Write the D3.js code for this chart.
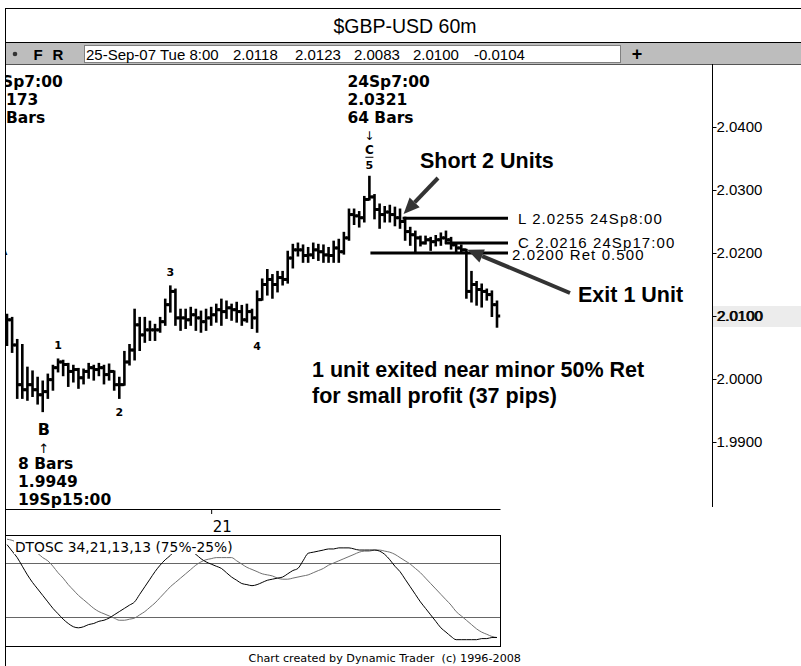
<!DOCTYPE html>
<html>
<head>
<meta charset="utf-8">
<script src="https://cdn.jsdelivr.net/npm/d3@7"></script>
<style>
  body { margin: 0; background: #fff; }
  svg { display: block; }
  text { fill: #000; }
</style>
</head>
<body>
<svg id="chart" width="801" height="666"></svg>
<script>
// ---- GBP/USD hourly bars, 19 Sep 8:00 .. 25 Sep 8:00 (2007) ----
const barOpen = [2.0097,2.0094,2.0054,1.9991,1.9983,1.9991,1.9983,1.9975,1.9980,1.9999,
  2.0018,2.0027,2.0023,2.0012,2.0015,2.0002,2.0012,2.0018,2.0015,2.0018,
  2.0007,2.0012,1.9991,1.9991,2.0027,2.0046,2.0086,2.0070,2.0078,2.0078,
  2.0078,2.0091,2.0118,2.0139,2.0097,2.0097,2.0094,2.0102,2.0097,2.0091,
  2.0097,2.0102,2.0110,2.0107,2.0113,2.0110,2.0107,2.0094,2.0107,2.0097,
  2.0126,2.0150,2.0158,2.0150,2.0161,2.0158,2.0192,2.0205,2.0205,2.0196,
  2.0197,2.0205,2.0202,2.0197,2.0196,2.0208,2.0202,2.0224,2.0261,2.0259,
  2.0256,2.0285,2.0289,2.0269,2.0261,2.0265,2.0261,2.0256,2.0250,2.0234,
  2.0229,2.0224,2.0216,2.0221,2.0218,2.0221,2.0224,2.0221,2.0213,2.0208,
  2.0205,2.0139,2.0150,2.0142,2.0139,2.0134,2.0118];
const barHigh = [2.0102,2.0097,2.0062,2.0054,2.0018,2.0012,2.0002,1.9996,2.0007,2.0021,
  2.0031,2.0029,2.0024,2.0021,2.0016,2.0015,2.0024,2.0021,2.0024,2.0021,
  2.0023,2.0012,2.0002,2.0043,2.0054,2.0110,2.0097,2.0097,2.0091,2.0086,
  2.0097,2.0126,2.0147,2.0142,2.0110,2.0110,2.0113,2.0110,2.0107,2.0110,
  2.0113,2.0118,2.0126,2.0123,2.0118,2.0121,2.0116,2.0118,2.0110,2.0139,
  2.0158,2.0173,2.0165,2.0170,2.0170,2.0202,2.0213,2.0215,2.0212,2.0208,
  2.0215,2.0213,2.0212,2.0208,2.0218,2.0221,2.0232,2.0269,2.0269,2.0265,
  2.0289,2.0321,2.0292,2.0277,2.0273,2.0275,2.0272,2.0269,2.0256,2.0240,
  2.0234,2.0226,2.0226,2.0224,2.0227,2.0231,2.0234,2.0224,2.0215,2.0212,
  2.0205,2.0170,2.0154,2.0150,2.0142,2.0139,2.0123];
const barLow = [2.0054,2.0043,1.9970,1.9970,1.9967,1.9973,1.9961,1.9949,1.9970,1.9983,
  2.0012,2.0006,1.9989,1.9996,1.9986,1.9993,2.0002,1.9999,2.0006,1.9993,
  1.9999,1.9983,1.9970,1.9991,2.0023,2.0031,2.0046,2.0059,2.0062,2.0062,
  2.0075,2.0086,2.0107,2.0086,2.0078,2.0081,2.0086,2.0078,2.0075,2.0078,
  2.0086,2.0091,2.0086,2.0097,2.0094,2.0091,2.0086,2.0091,2.0081,2.0075,
  2.0126,2.0134,2.0129,2.0139,2.0150,2.0153,2.0177,2.0196,2.0186,2.0186,
  2.0192,2.0189,2.0186,2.0186,2.0186,2.0186,2.0199,2.0221,2.0246,2.0242,
  2.0250,2.0285,2.0255,2.0240,2.0250,2.0250,2.0244,2.0240,2.0221,2.0213,
  2.0202,2.0212,2.0215,2.0205,2.0212,2.0213,2.0216,2.0207,2.0202,2.0200,
  2.0129,2.0123,2.0118,2.0115,2.0126,2.0100,2.0083];
const barClose = [2.0094,2.0054,1.9991,1.9983,1.9991,1.9983,1.9975,1.9980,1.9999,2.0018,
  2.0027,2.0023,2.0012,2.0015,2.0002,2.0012,2.0018,2.0015,2.0018,2.0007,
  2.0012,1.9991,1.9991,2.0027,2.0046,2.0086,2.0070,2.0078,2.0078,2.0078,
  2.0091,2.0118,2.0139,2.0097,2.0097,2.0094,2.0102,2.0097,2.0091,2.0097,
  2.0102,2.0110,2.0107,2.0113,2.0110,2.0107,2.0094,2.0107,2.0097,2.0126,
  2.0150,2.0158,2.0150,2.0161,2.0158,2.0192,2.0205,2.0205,2.0196,2.0197,
  2.0205,2.0202,2.0197,2.0196,2.0208,2.0202,2.0224,2.0261,2.0259,2.0256,
  2.0285,2.0289,2.0269,2.0261,2.0265,2.0261,2.0256,2.0250,2.0234,2.0229,
  2.0224,2.0216,2.0221,2.0218,2.0221,2.0224,2.0221,2.0213,2.0208,2.0205,
  2.0139,2.0150,2.0142,2.0139,2.0134,2.0118,2.0100];

// DT oscillator (fast and slow lines), one value per bar
const oscFast = [92,86,80,72,64,57,51,45,39,33,28,23,19,16,15,16,18,19,21,22,
  24,27,30,33,36,39,46,53,60,67,73,78,82,87,90,89,86,83,79,76,
  74,72,70,66,62,59,56,55,54,55,57,59,60,61,62,65,68,70,77,84,
  85,86,87,88,88,89,89,89,88,87,87,87,87,86,83,78,72,67,60,53,
  46,39,33,27,21,15,11,7,4,4,4,4,4,5,5,6,6];
const oscSlow = [97,96,94,92,89,87,84,80,77,72,66,61,55,50,45,41,37,33,30,28,
  26,24,22,22,23,24,27,30,34,38,43,48,53,57,61,65,69,73,76,78,
  79,80,80,80,80,77,74,71,69,67,65,64,63,61,60,60,61,62,63,64,
  66,68,70,73,75,77,79,81,83,85,86,86,87,87,86,85,83,80,77,74,
  70,66,61,56,51,46,41,36,30,26,22,18,14,11,9,7,6];
const oscLevels = [75, 25];

const priceTicks = [1.99, 2.00, 2.01, 2.02, 2.03, 2.04];
const dayTickIndex = [40];
const dayTickLabels = ["21"];

const titleText = "$GBP-USD 60m";
// quote bar fields: date/time, open, high, low, close, change
const quoteFields = ["25-Sep-07 Tue 8:00", "2.0118", "2.0123", "2.0083", "2.0100", "-0.0104"];
const oscTitle = "DTOSC 34,21,13,13 (75%-25%)";
const footerText = "Chart created by Dynamic Trader  (c) 1996-2008";

// horizontal price levels: value, first bar, label
const levelPrices = [2.0255, 2.0216, 2.0200];
const levelStart = [77.5, 85.8, 71.2];
const levelLabels = ["L 2.0255 24Sp8:00", "C 2.0216 24Sp17:00", "2.0200 Ret 0.500"];

// wave counts: text, bar index, side of the bar
const waveText = ["1", "2", "3", "4"];
const waveBar = [10, 22, 32, 49];
const waveSide = ["high", "low", "high", "low"];

// ---------------------------------------------------------------
const svg = d3.select("#chart");
const W = 801, H = 666;

const L = 5, axisX = 712, panelTop = 64, panelBottom = 509, lowerRight = 500;
const oscTop = 535, oscBottom = 646;

const x = d3.scaleLinear().domain([0, 96]).range([7, 497]);
const y = d3.scaleLinear().domain([1.99, 2.04]).range([442, 127]);
const yo = d3.scaleLinear().domain([0, 100]).range([644, 536]);

const mainFont = "'DejaVu Sans', Verdana, sans-serif";
const armFont = "'Liberation Sans', Arial, sans-serif";

// ---- frame, title and quote bar ----
svg.append("rect").attr("x", L + 0.5).attr("y", 8.5).attr("width", W - L).attr("height", 34)
  .attr("fill", "#fff").attr("stroke", "#000");
svg.append("text").attr("x", 405).attr("y", 26).attr("text-anchor", "middle")
  .attr("dominant-baseline", "central").style("font-family", armFont).style("font-size", "19.5px")
  .text(titleText);

svg.append("rect").attr("x", L + 1).attr("y", 43).attr("width", W - L - 1).attr("height", 21)
  .attr("fill", "#bdbdbd");
svg.append("circle").attr("cx", 15).attr("cy", 54).attr("r", 2.3).attr("fill", "#333");
svg.append("text").attr("x", 38).attr("y", 54).attr("text-anchor", "middle").attr("dominant-baseline", "central")
  .style("font-family", armFont).style("font-weight", "bold").style("font-size", "15px").text("F");
svg.append("text").attr("x", 58).attr("y", 54).attr("text-anchor", "middle").attr("dominant-baseline", "central")
  .style("font-family", armFont).style("font-weight", "bold").style("font-size", "15px").text("R");
svg.append("rect").attr("x", 84.5).attr("y", 45.5).attr("width", 536).attr("height", 17)
  .attr("fill", "#fff").attr("stroke", "#808080");
const quoteX = [86, 233, 295, 354, 413, 474];
quoteFields.forEach((t, k) => {
  svg.append("text").attr("x", quoteX[k]).attr("y", 54.5).attr("dominant-baseline", "central")
    .style("font-family", armFont).style("font-size", "15px").text(t);
});
svg.append("text").attr("x", 637).attr("y", 54).attr("text-anchor", "middle").attr("dominant-baseline", "central")
  .style("font-family", armFont).style("font-weight", "bold").style("font-size", "18px").text("+");
svg.append("line").attr("x1", L).attr("x2", W).attr("y1", 64.5).attr("y2", 64.5).attr("stroke", "#555");

// left border all the way down
svg.append("line").attr("x1", L + 0.5).attr("x2", L + 0.5).attr("y1", 8).attr("y2", H).attr("stroke", "#000");

// ---- price panel ----
const defs = svg.append("defs");
defs.append("clipPath").attr("id", "pclip")
  .append("rect").attr("x", L + 1).attr("y", panelTop + 1).attr("width", axisX - L - 1).attr("height", panelBottom - panelTop - 1);

const pg = svg.append("g").attr("clip-path", "url(#pclip)");

// OHLC bars
const bars = pg.append("g").attr("stroke", "#000").attr("stroke-linecap", "butt");
d3.range(barClose.length).forEach(i => {
  const cx = x(i);
  bars.append("line").attr("stroke-width", 2.6).attr("x1", cx).attr("x2", cx)
    .attr("y1", y(barHigh[i]) - 1).attr("y2", y(barLow[i]) + 1);
  bars.append("line").attr("stroke-width", 3).attr("x1", cx - 3).attr("x2", cx)
    .attr("y1", y(barOpen[i])).attr("y2", y(barOpen[i]));
  bars.append("line").attr("stroke-width", 3).attr("x1", cx).attr("x2", cx + 3.2)
    .attr("y1", y(barClose[i])).attr("y2", y(barClose[i]));
});

// levels
const xEnd = 508;
levelPrices.forEach((p, k) => {
  pg.append("line").attr("x1", x(levelStart[k])).attr("x2", xEnd)
    .attr("y1", y(p)).attr("y2", y(p)).attr("stroke", "#000").attr("stroke-width", 3);
});
const lvlLabelX = [518, 518, 512];
levelLabels.forEach((t, k) => {
  pg.append("text").attr("x", lvlLabelX[k]).attr("y", y(levelPrices[k]) + (k === 2 ? 1 : 0))
    .attr("dominant-baseline", "central")
    .style("font-family", armFont).style("font-size", "15px").style("letter-spacing", "1.1px")
    .text(t);
});

// wave counts
const waveG = pg.append("g").style("font-family", mainFont).style("font-weight", "bold").style("font-size", "11px");
waveText.forEach((t, k) => {
  const i = waveBar[k];
  const yy = waveSide[k] === "high" ? y(barHigh[i]) - 14 : y(barLow[i]) + 15;
  waveG.append("text").attr("x", x(i)).attr("y", yy).attr("text-anchor", "middle")
    .attr("dominant-baseline", "central").text(t);
});

// pivot C / wave 5 and its stats
const iC = 71;
waveG.append("text").attr("x", x(iC)).attr("y", y(barHigh[iC]) - 27).attr("text-anchor", "middle")
  .attr("dominant-baseline", "central").style("font-size", "12px").text("C");
waveG.append("line").attr("x1", x(iC) - 4).attr("x2", x(iC) + 4)
  .attr("y1", y(barHigh[iC]) - 19.5).attr("y2", y(barHigh[iC]) - 19.5).attr("stroke", "#000").attr("stroke-width", 1);
waveG.append("text").attr("x", x(iC)).attr("y", y(barHigh[iC]) - 11).attr("text-anchor", "middle")
  .attr("dominant-baseline", "central").text("5");
const statC = ["24Sp7:00", d3.format(".4f")(barHigh[iC]), "64 Bars"];
const statG = pg.append("g").style("font-family", mainFont).style("font-weight", "bold").style("font-size", "15.5px");
statC.forEach((t, k) => {
  statG.append("text").attr("x", x(iC) - 22).attr("y", 82 + k * 18).attr("dominant-baseline", "central").text(t);
});
statG.append("text").attr("x", x(iC)).attr("y", 136).attr("text-anchor", "middle")
  .attr("dominant-baseline", "central").style("font-weight", "normal").style("font-size", "12px").text("↓");

// pivot B and its stats
const iB = 7;
statG.append("text").attr("x", x(iB) + 1).attr("y", y(barLow[iB]) + 18).attr("text-anchor", "middle")
  .attr("dominant-baseline", "central").style("font-size", "16px").text("B");
statG.append("text").attr("x", x(iB) + 1).attr("y", y(barLow[iB]) + 37).attr("text-anchor", "middle")
  .attr("dominant-baseline", "central").style("font-weight", "normal").style("font-size", "13px").text("↑");
const statB = ["8 Bars", d3.format(".4f")(barLow[iB]), "19Sp15:00"];
statB.forEach((t, k) => {
  statG.append("text").attr("x", 18).attr("y", 464 + k * 18).attr("dominant-baseline", "central").text(t);
});

// earlier pivot label, partly outside the panel
["Sp7:00", "173", "Bars"].forEach((t, k) => {
  statG.append("text").attr("x", [2, 6, 6][k]).attr("y", 82 + k * 18).attr("dominant-baseline", "central").text(t);
});
statG.append("text").attr("x", -2).attr("y", 251).attr("dominant-baseline", "central")
  .style("font-size", "12px").text("A");

// trade notes with arrows
function arrow(x1, y1, x2, y2) {
  const a = Math.atan2(y2 - y1, x2 - x1), len = 16, wid = 7;
  const bx = x2 - len * Math.cos(a), by = y2 - len * Math.sin(a);
  pg.append("line").attr("x1", x1).attr("y1", y1).attr("x2", bx).attr("y2", by)
    .attr("stroke", "#333").attr("stroke-width", 4);
  pg.append("path").attr("fill", "#333").attr("d",
    `M${x2},${y2}L${bx + wid * Math.sin(a)},${by - wid * Math.cos(a)}L${bx - wid * Math.sin(a)},${by + wid * Math.cos(a)}Z`);
}
arrow(438, 178, x(77.7), y(2.0262));
arrow(570, 293, x(90.2), y(2.0205));

const noteG = pg.append("g").style("font-family", armFont).style("font-weight", "bold").style("font-size", "21.5px");
noteG.append("text").attr("x", 420).attr("y", 161).attr("dominant-baseline", "central").text("Short 2 Units");
noteG.append("text").attr("x", 578).attr("y", 295).attr("dominant-baseline", "central").text("Exit 1 Unit");
noteG.append("text").attr("x", 312).attr("y", 370).attr("dominant-baseline", "central").text("1 unit exited near minor 50% Ret");
noteG.append("text").attr("x", 312).attr("y", 396).attr("dominant-baseline", "central").text("for small profit (37 pips)");

// price axis
const lastClose = barClose[barClose.length - 1];
svg.append("rect").attr("x", axisX + 1).attr("y", y(lastClose) - 10).attr("width", W - axisX - 1).attr("height", 21)
  .attr("fill", "#ececec");
const yAxis = d3.axisRight(y).tickValues(priceTicks).tickSize(4).tickPadding(0).tickFormat(d3.format(".4f"));
const ag = svg.append("g").attr("transform", `translate(${axisX + 0.5},0)`).call(yAxis);
ag.select(".domain").attr("d", `M0,${panelTop}V${panelBottom - 2}`).attr("stroke", "#000");
ag.selectAll(".tick line").attr("stroke", "#000");
ag.selectAll(".tick text").style("font-family", armFont).style("font-size", "15px").attr("fill", "#000");
ag.append("text").attr("x", 5).attr("y", y(lastClose)).attr("dy", "0.32em")
  .style("font-family", armFont).style("font-size", "15px").attr("fill", "#000").text(d3.format(".4f")(lastClose));

// bottom edge of the price panel
svg.append("line").attr("x1", L).attr("x2", lowerRight + 0.5).attr("y1", panelBottom + 0.5).attr("y2", panelBottom + 0.5)
  .attr("stroke", "#000");

// ---- date strip ----
const xAxis = d3.axisBottom(x).tickValues(dayTickIndex).tickSize(5).tickPadding(7)
  .tickFormat((d, k) => dayTickLabels[k]);
const xg = svg.append("g").attr("transform", `translate(0,${panelBottom})`).call(xAxis);
xg.select(".domain").remove();
xg.selectAll(".tick text").attr("text-anchor", "start").attr("x", 1)
  .style("font-family", mainFont).style("font-size", "15px").attr("fill", "#000");
xg.selectAll(".tick line").attr("stroke", "#000");

// ---- oscillator panel ----
svg.append("rect").attr("x", L + 0.5).attr("y", oscTop + 0.5).attr("width", lowerRight - L).attr("height", oscBottom - oscTop)
  .attr("fill", "#fff").attr("stroke", "#000");
defs.append("clipPath").attr("id", "oclip")
  .append("rect").attr("x", L + 1).attr("y", oscTop + 1).attr("width", lowerRight - L - 1).attr("height", oscBottom - oscTop - 1);
const og = svg.append("g").attr("clip-path", "url(#oclip)");
oscLevels.forEach(v => {
  og.append("line").attr("x1", L).attr("x2", lowerRight).attr("y1", Math.round(yo(v)) + 0.5).attr("y2", Math.round(yo(v)) + 0.5)
    .attr("stroke", "#666").attr("stroke-width", 1.1);
});
const oline = d3.line().x((d, i) => x(i)).y(d => yo(d)).curve(d3.curveMonotoneX);
og.append("path").datum(oscSlow).attr("d", oline).attr("fill", "none").attr("stroke", "#707070").attr("stroke-width", 1);
og.append("path").datum(oscFast).attr("d", oline).attr("fill", "none").attr("stroke", "#000").attr("stroke-width", 1);
const ot = og.append("text").attr("x", 15).attr("y", 547).attr("dominant-baseline", "central")
  .style("font-family", mainFont).style("font-size", "13.8px").text(oscTitle);
const bb = ot.node().getBBox();
og.insert("rect", "text").attr("x", bb.x - 1).attr("y", bb.y + 1).attr("width", bb.width + 2).attr("height", bb.height - 2)
  .attr("fill", "#fff");

// footer
svg.append("text").attr("x", 521).attr("y", 658).attr("text-anchor", "end").attr("dominant-baseline", "central")
  .attr("xml:space", "preserve")
  .style("font-family", mainFont).style("font-size", "11.2px").text(footerText);
</script>
</body>
</html>
